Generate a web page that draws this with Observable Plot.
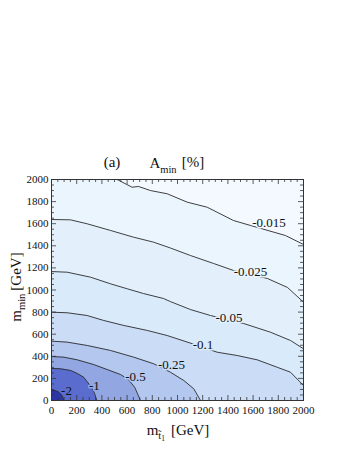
<!DOCTYPE html>
<html><head><meta charset="utf-8">
<script src="https://cdn.jsdelivr.net/npm/d3@7"></script>
<script src="https://cdn.jsdelivr.net/npm/@observablehq/plot@0.6"></script>
<style>body{margin:0;background:#fff;} svg text{font-family:'Liberation Serif','Times New Roman','DejaVu Serif',serif;}</style>
</head><body><div id="chart"></div>
<script>
// Contour levels (A_min in %), outermost to innermost
const levels = ["-0.015", "-0.025", "-0.05", "-0.1", "-0.25", "-0.5", "-1", "-2"];
// Fill colour of the region inside each contour
const bandColors = ["#ebf5fd", "#e3f0fc", "#d9eafa", "#cbdcf6", "#b4c7ef", "#92a6e2", "#5a6dce", "#2c35a6"];
const outsideColor = "#f3f9fe";

// Contour lines: [m_stop (GeV), m_min (GeV)]
const contour015 = [[521,2000],[640,1930],[690,1937],[786,1900],[918,1871],[1077,1795],[1236,1749],[1444,1629],[1579,1584],[1857,1493],[2000,1412]];
const contour025 = [[0,1638],[151,1635],[283,1599],[468,1539],[651,1478],[810,1433],[944,1380],[1103,1312],[1286,1240],[1444,1177],[1714,1104],[1873,1023],[2000,890]];
const contour05  = [[0,1167],[125,1161],[310,1116],[468,1056],[601,1011],[730,968],[889,923],[944,895],[1103,823],[1262,769],[1524,697],[1738,618],[1897,543],[2000,468]];
const contour1   = [[0,799],[125,794],[283,769],[415,724],[574,679],[760,634],[918,588],[1103,519],[1315,437],[1474,407],[1633,368],[1791,301],[1897,256],[2000,136]];
const contour25  = [[0,537],[125,528],[283,498],[468,453],[653,392],[812,332],[944,256],[1050,181],[1129,106],[1183,0]];
const contour5   = [[0,398],[98,392],[204,368],[336,325],[442,280],[548,235],[610,190],[660,120],[706,0]];
const contour10  = [[0,290],[71,287],[151,272],[204,245],[256,210],[310,130],[340,70],[360,0]];
const contour20  = [[0,96],[30,90],[58,75],[85,45],[98,0]];
const contours = [contour015, contour025, contour05, contour1, contour25, contour5, contour10, contour20];

// Inline contour label positions
const labelX = [1726, 1579, 1409, 1202, 952, 667, 341, 119];
const labelY = [1606, 1167, 751, 507, 326, 213, 136, 90];

// Axis ticks
const xTicks = [0,200,400,600,800,1000,1200,1400,1600,1800,2000];
const yTicks = [0,200,400,600,800,1000,1200,1400,1600,1800,2000];
const domainMax = 2000;

const W = 349, H = 451, mL = 51, mR = 46, mT = 179, mB = 51;
const fw = W - mL - mR, fh = H - mT - mB;
const minorTicks = d3.range(0, domainMax + 1, 50).filter(v => !xTicks.includes(v));

const series = contours.map((pts, i) => pts.map(([x, y]) => ({x, y, level: levels[i]})));
const fills = series.map((pts, i) => (pts[0].x > 0 ? [{x: 0, y: domainMax, level: levels[i]}, ...pts] : pts));
const labels = levels.map((t, i) => ({x: labelX[i], y: labelY[i], text: t, halo: i === 0 ? outsideColor : bandColors[i - 1]}));

const serif = "'Liberation Serif', 'Times New Roman', 'DejaVu Serif', serif";
const tickStroke = "#333";

const marks = [
  Plot.frame({fill: outsideColor, stroke: null}),
  ...fills.map((d, i) => Plot.areaY(d, {x: "x", y: "y", fill: bandColors[i]})),
  ...series.map(d => Plot.line(d, {x: "x", y: "y", stroke: "#2b2b2b", strokeWidth: 0.9})),
  Plot.text(labels, {x: "x", y: "y", text: "text", fill: "#111", stroke: "halo", strokeWidth: 3, fontSize: 13, fontFamily: serif}),
  // inward ticks on all four sides
  Plot.ruleX(xTicks, {x: d => d, insetTop: fh - 5, stroke: tickStroke, strokeWidth: 0.8}),
  Plot.ruleX(minorTicks, {x: d => d, insetTop: fh - 3, stroke: tickStroke, strokeWidth: 0.8}),
  Plot.ruleX(xTicks, {x: d => d, insetBottom: fh - 5, stroke: tickStroke, strokeWidth: 0.8}),
  Plot.ruleX(minorTicks, {x: d => d, insetBottom: fh - 3, stroke: tickStroke, strokeWidth: 0.8}),
  Plot.ruleY(yTicks, {y: d => d, insetRight: fw - 5, stroke: tickStroke, strokeWidth: 0.8}),
  Plot.ruleY(minorTicks, {y: d => d, insetRight: fw - 3, stroke: tickStroke, strokeWidth: 0.8}),
  Plot.ruleY(yTicks, {y: d => d, insetLeft: fw - 5, stroke: tickStroke, strokeWidth: 0.8}),
  Plot.ruleY(minorTicks, {y: d => d, insetLeft: fw - 3, stroke: tickStroke, strokeWidth: 0.8}),
  Plot.axisX(xTicks, {tickSize: 0, tickPadding: 6, tickFormat: "d", label: null, fill: "#111", fontFamily: serif}),
  Plot.axisY(yTicks, {tickSize: 0, tickPadding: 3, tickFormat: "d", label: null, fill: "#111", fontFamily: serif}),
  Plot.frame({stroke: "#333", strokeWidth: 1})
];

const svg = Plot.plot({
  width: W, height: H,
  marginLeft: mL, marginRight: mR, marginTop: mT, marginBottom: mB,
  x: {domain: [0, domainMax]},
  y: {domain: [0, domainMax]},
  style: {fontFamily: serif, fontSize: "11px", background: "#fff", color: "#111"},
  marks
});

const s = d3.select(svg);
const addText = (x, y, parts, opts = {}) => {
  const t = s.append("text").attr("x", x).attr("y", y)
    .attr("font-family", serif).attr("fill", "#111");
  if (opts.anchor) t.attr("text-anchor", opts.anchor);
  if (opts.transform) t.attr("transform", opts.transform).attr("x", 0).attr("y", 0);
  parts.forEach(p => {
    const ts = t.append("tspan").attr("font-size", p.size).text(p.text);
    if (p.dy) ts.attr("dy", p.dy);
  });
  return t;
};
// Title
addText(112, 167, [{text: "(a)", size: 15}]);
addText(163, 168, [{text: "A", size: 15}, {text: "min", size: 10.5, dy: 5}]);
addText(193, 167, [{text: "[%]", size: 15}]);
// x-axis label
addText(178, 435, [
  {text: "m", size: 15},
  {text: "t\u0303", size: 10.5, dy: 4},
  {text: "1", size: 7.5, dy: 2},
  {text: "\u2009\u2009[GeV]", size: 15, dy: -6}
], {anchor: "middle"});
// y-axis label (rotated)
addText(0, 0, [{text: "m", size: 15}, {text: "min", size: 10.5, dy: 4}, {text: "\u2009[GeV]", size: 15, dy: -4}], {transform: "translate(21,287) rotate(-90)", anchor: "middle"});

document.getElementById("chart").appendChild(svg);
</script>
</body></html>
